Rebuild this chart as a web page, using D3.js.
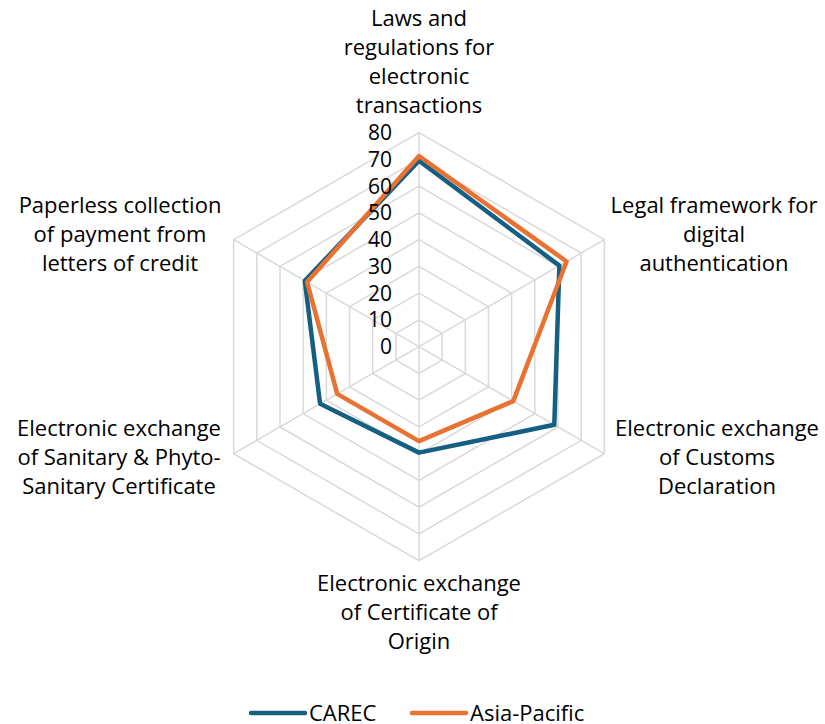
<!DOCTYPE html>
<html lang="en">
<head>
    <meta charset="UTF-8">
    <title>Radar</title>
    <script src="https://d3js.org/d3.v7.min.js"></script>
    <style>
        body { margin: 0; background: #fff; }
        text { font-family: "Open Sans", "Liberation Sans", Arial, sans-serif; fill: #000; }
    </style>
</head>
<body>
<svg id="chart" width="825" height="724"></svg>
<script>
    const categories = [
        ["Laws and", "regulations for", "electronic", "transactions"],
        ["Legal framework for", "digital", "authentication"],
        ["Electronic exchange", "of Customs", "Declaration"],
        ["Electronic exchange", "of Certificate of", "Origin"],
        ["Electronic exchange", "of Sanitary & Phyto-", "Sanitary Certificate"],
        ["Paperless collection", "of payment from", "letters of credit"]
    ];
    const carec = [69.5, 60.6, 58.4, 39.6, 42.7, 49.3];
    const asiaPacific = [71.3, 63.7, 40.7, 35.3, 35.3, 48.3];
    const ticks = [0, 10, 20, 30, 40, 50, 60, 70, 80];
    const seriesNames = ["CAREC", "Asia-Pacific"];
    const colors = ["#156082", "#E97132"];

    const cx = 419, cy = 346.7, R = 214;
    const svg = d3.select("#chart");
    const g = svg.append("g").attr("transform", "translate(" + cx + "," + cy + ")");

    const r = d3.scaleLinear().domain([0, 80]).range([0, R]);
    const angle = d3.scaleLinear().domain([0, categories.length]).range([0, 2 * Math.PI]);

    // grid rings
    const ring = d3.lineRadial()
        .angle(function (d, i) { return angle(i); })
        .radius(function (d) { return r(d); })
        .curve(d3.curveLinearClosed);

    g.selectAll(".ring")
        .data(ticks.slice(1)).enter()
        .append("path")
        .attr("d", function (t) { return ring(categories.map(function () { return t; })); })
        .attr("fill", "none")
        .attr("stroke", "#D9D9D9")
        .attr("stroke-width", 1.5);

    // spokes
    g.selectAll(".spoke")
        .data(categories).enter()
        .append("line")
        .attr("x1", 0).attr("y1", 0)
        .attr("x2", function (d, i) { return r(80) * Math.sin(angle(i)); })
        .attr("y2", function (d, i) { return -r(80) * Math.cos(angle(i)); })
        .attr("stroke", "#D9D9D9")
        .attr("stroke-width", 1.5);

    // series
    [carec, asiaPacific].forEach(function (vals, k) {
        g.append("path")
            .attr("d", ring(vals))
            .attr("fill", "none")
            .attr("stroke", colors[k])
            .attr("stroke-width", 4.5)
            .attr("stroke-linejoin", "round");
    });

    // tick labels
    g.selectAll(".tick")
        .data(ticks).enter()
        .append("text")
        .attr("x", -27)
        .attr("y", function (d) { return -r(d); })
        .attr("dy", "0.35em")
        .attr("text-anchor", "end")
        .style("font-size", "21px")
        .text(function (d) { return d; });

    // category labels
    const labelPos = [
        [419, 18], [714, 205], [717, 428], [419, 583], [119, 428], [120, 205]
    ];
    categories.forEach(function (lines, i) {
        const t = svg.append("text")
            .attr("text-anchor", "middle")
            .style("font-size", "22px");
        lines.forEach(function (s, j) {
            t.append("tspan")
                .attr("x", labelPos[i][0])
                .attr("y", labelPos[i][1] + j * 29)
                .attr("dy", "0.35em")
                .text(s);
        });
    });

    // legend
    const legend = svg.append("g");
    const legendX = [251, 412];
    seriesNames.forEach(function (name, k) {
        legend.append("line")
            .attr("x1", legendX[k]).attr("x2", legendX[k] + 54)
            .attr("y1", 713).attr("y2", 713)
            .attr("stroke", colors[k])
            .attr("stroke-width", 4.5)
            .attr("stroke-linecap", "round");
        legend.append("text")
            .attr("x", legendX[k] + 58)
            .attr("y", 713)
            .attr("dy", "0.35em")
            .style("font-size", "22px")
            .text(name);
    });
</script>
</body>
</html>
